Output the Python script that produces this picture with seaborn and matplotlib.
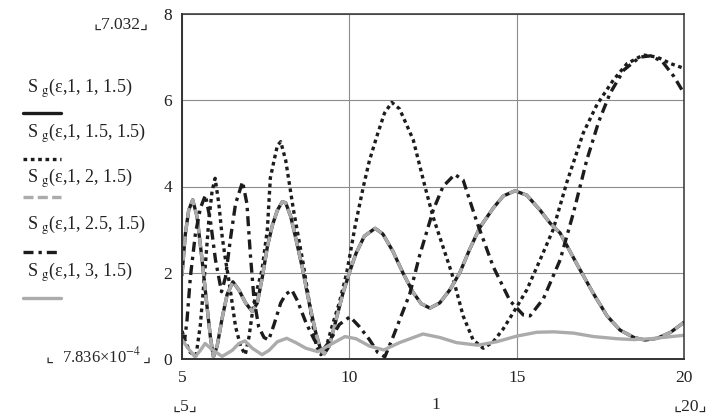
import numpy as np
import pandas as pd
import matplotlib
matplotlib.use("Agg")
import matplotlib.pyplot as plt
from matplotlib.lines import Line2D
import seaborn as sns

# values (eps on x, S_g on y)
a_x = [5.0, 5.1, 5.2, 5.32, 5.45, 5.6, 5.75, 5.85, 5.94, 6.05, 6.2, 6.35, 6.52, 6.7, 6.9,
       7.1, 7.25, 7.4, 7.55, 7.7, 7.85, 8.0, 8.1, 8.25, 8.4, 8.6, 8.8, 9.0, 9.15, 9.25,
       9.4, 9.6, 9.8, 10.0, 10.2, 10.45, 10.77, 11.0, 11.3, 11.6, 11.9, 12.15, 12.41, 12.7,
       13.0, 13.3, 13.6, 13.9, 14.3, 14.6, 14.95, 15.3, 15.7, 16.0, 16.3, 16.8, 17.29, 17.7,
       18.09, 18.5, 18.83, 19.2, 19.6, 20.0]
a_y = [1.95, 2.9, 3.45, 3.69, 3.3, 2.3, 1.2, 0.5, 0.05, 0.3, 0.95, 1.5, 1.79, 1.6, 1.3,
       1.1, 1.3, 1.9, 2.6, 3.1, 3.45, 3.65, 3.62, 3.3, 2.8, 2.1, 1.3, 0.6, 0.2, 0.12,
       0.3, 0.9, 1.5, 2.0, 2.45, 2.85, 3.03, 2.9, 2.5, 2.0, 1.55, 1.28, 1.18, 1.3,
       1.6, 2.0, 2.55, 3.05, 3.5, 3.78, 3.9, 3.8, 3.45, 3.15, 2.92, 2.2, 1.52, 1.0,
       0.67, 0.5, 0.44, 0.48, 0.62, 0.85]

b_x = [5.0, 5.1, 5.25, 5.42, 5.55, 5.7, 5.8, 5.9, 5.99, 6.1, 6.2, 6.3, 6.4, 6.6, 6.75,
       6.89, 7.0, 7.1, 7.19, 7.39, 7.55, 7.64, 7.75, 7.85, 7.95, 8.1, 8.33, 8.62, 8.87,
       9.02, 9.15, 9.3, 9.5, 9.7, 9.92, 10.17, 10.42, 10.6, 10.82, 11.05, 11.27, 11.5,
       11.7, 11.91, 12.26, 12.5, 12.8, 13.06, 13.4, 13.7, 14.0, 14.3, 14.6, 14.95, 15.3,
       15.7, 16.09, 16.5, 16.99, 17.4, 17.89, 18.3, 18.78, 19.2, 19.6, 20.0]
b_y = [0.65, 0.4, 0.15, 0.08, 0.8, 2.2, 3.2, 3.9, 4.19, 3.6, 2.84, 2.3, 1.83, 0.75, 0.3,
       0.1, 0.5, 1.06, 1.45, 2.06, 3.0, 4.2, 4.6, 4.95, 5.04, 4.6, 3.46, 2.22, 0.98,
       0.29, 0.1, 0.25, 0.8, 1.3, 1.99, 3.07, 4.0, 4.6, 5.16, 5.7, 5.95, 5.8,
       5.45, 5.08, 4.0, 3.3, 2.6, 1.99, 1.0, 0.44, 0.25, 0.4, 0.7, 1.14, 1.6,
       2.3, 3.0, 4.1, 5.24, 5.9, 6.47, 6.85, 7.05, 7.0, 6.85, 6.74]

c_x = [5.0, 5.08, 5.15, 5.25, 5.4, 5.55, 5.7, 5.85, 6.0, 6.18, 6.3, 6.45, 6.6, 6.81, 6.94,
       7.04, 7.15, 7.29, 7.45, 7.59, 7.75, 7.95, 8.1, 8.28, 8.45, 8.7, 8.95, 9.17, 9.4,
       9.7, 10.02, 10.3, 10.6, 10.85, 11.06, 11.3, 11.55, 11.81, 12.1, 12.51, 12.8, 13.15,
       13.4, 13.8, 14.3, 14.8, 15.2, 15.4, 15.8, 16.3, 16.7, 17.09, 17.45, 17.79, 18.2,
       18.68, 19.0, 19.35, 19.7, 20.0]
c_y = [0.55, 0.45, 0.9, 1.9, 2.9, 3.5, 3.8, 3.2, 2.3, 1.56, 1.9, 2.8, 3.6, 4.11, 3.6,
       2.45, 1.4, 0.75, 0.5, 0.44, 0.8, 1.3, 1.5, 1.6, 1.35, 0.85, 0.45, 0.17, 0.4,
       0.8, 0.98, 0.75, 0.45, 0.15, 0.05, 0.5, 1.0, 1.52, 2.4, 3.46, 4.0, 4.28,
       4.15, 3.2, 2.14, 1.35, 1.02, 1.0, 1.4, 2.3, 3.4, 4.6, 5.5, 6.16, 6.7,
       7.0, 7.03, 6.9, 6.55, 6.16]

d_x = [5.0, 5.15, 5.39, 5.55, 5.69, 5.9, 6.2, 6.5, 6.7, 6.88, 7.1, 7.39, 7.6, 7.85, 8.13,
       8.4, 8.7, 9.06, 9.4, 9.87, 10.2, 10.6, 11.03, 11.5, 12.2, 12.7, 13.2, 13.84, 14.4,
       15.0, 15.6, 16.1, 16.7, 17.3, 18.0, 18.5, 19.0, 19.5, 20.0]
d_y = [0.45, 0.28, 0.05, 0.2, 0.36, 0.22, 0.06, 0.2, 0.36, 0.42, 0.25, 0.1, 0.2, 0.4, 0.48,
       0.38, 0.25, 0.17, 0.32, 0.52, 0.47, 0.3, 0.21, 0.38, 0.58, 0.5, 0.38, 0.32, 0.4,
       0.53, 0.62, 0.63, 0.6, 0.52, 0.47, 0.45, 0.47, 0.51, 0.55]

labels = ["(\u03b5,1, 1, 1.5)", "(\u03b5,1, 1.5, 1.5)", "(\u03b5,1, 2, 1.5)",
          "(\u03b5,1, 2.5, 1.5)", "(\u03b5,1, 3, 1.5)"]
x_ticks = [5, 10, 15, 20]
y_ticks = [0, 2, 4, 6, 8]

sns.set_style("white")
plt.rcParams["font.family"] = ["Liberation Serif", "DejaVu Sans"]
plt.rcParams["mathtext.fontset"] = "stix"

black = "#1c1c1c"
grey = "#ababab"
# curves in legend order; (eps,1,1,1.5) and (eps,1,2,1.5) lie on top of each other
series = [
    (a_x, a_y, black, "-", 2.4),
    (b_x, b_y, black, (0, (1.1, 1.1)), 2.4),
    (a_x, a_y, grey, (0, (3.0, 1.3)), 2.4),
    (c_x, c_y, black, (0, (3.0, 1.5, 1.0, 1.5)), 2.4),
    (d_x, d_y, grey, "-", 2.4),
]

fig = plt.figure(figsize=(7.09, 4.17), dpi=100)
ax = fig.add_axes([182 / 709, 1 - 359 / 417, 502 / 709, 345 / 417])

for xs, ys, col, ls, lw in series:
    df = pd.DataFrame({"eps": xs, "S": ys})
    sns.lineplot(data=df, x="eps", y="S", ax=ax, color=col, linestyle=ls,
                 linewidth=lw, sort=False, estimator=None)

ax.set_xlim(5, 20)
ax.set_ylim(0, 8)
ax.set_xticks(x_ticks)
ax.set_yticks(y_ticks)
ax.set_xlabel("")
ax.set_ylabel("")
ax.grid(True, color="#8c8c8c", linewidth=0.8)
ax.set_axisbelow(True)
ax.tick_params(length=0, labelsize=12.5, colors="#222222")
ax.tick_params(axis="x", pad=8)
ax.tick_params(axis="y", pad=7)
for s in ax.spines.values():
    s.set_color("#333333")
    s.set_linewidth(1.1)
ax.spines["left"].set_linewidth(1.4)
ax.spines["bottom"].set_linewidth(1.4)

# legend drawn the Mathcad way: label above, line sample below
text_y = [88, 133, 178, 225, 272]
line_y = [113, 159, 197, 252, 298]
for i, (lab, (xs, ys, col, ls, lw)) in enumerate(zip(labels, series)):
    fig.text(27 / 709, 1 - text_y[i] / 417, "S $_{\\mathrm{g}}$" + lab, fontsize=13,
             va="center", ha="left", color="#222222")
    fig.add_artist(Line2D([23 / 709, 61 / 709], [1 - line_y[i] / 417] * 2,
                          color=col, linestyle=ls, linewidth=lw))

# axis limit markers
corner_l, corner_r = "\u231e", "\u231f"
fig.text(121 / 709, 1 - 25 / 417, corner_l + "7.032" + corner_r, fontsize=12.5,
         ha="center", va="center")
fig.text(50 / 709, 1 - 358 / 417, corner_l, fontsize=12.5, ha="center", va="center")
fig.text(141 / 709, 1 - 356 / 417, "7.836\u00d710$^{-4}$", fontsize=12,
         ha="right", va="center")
fig.text(147 / 709, 1 - 358 / 417, corner_r, fontsize=12.5, ha="center", va="center")
fig.text(185 / 709, 1 - 407 / 417, corner_l + "5" + corner_r, fontsize=12.5,
         ha="center", va="center")
fig.text(436 / 709, 1 - 405 / 417, "1", fontsize=12.5, ha="center", va="center")
fig.text(690 / 709, 1 - 407 / 417, corner_l + "20" + corner_r, fontsize=12.5,
         ha="center", va="center")

fig.savefig("out.png", dpi=100)
